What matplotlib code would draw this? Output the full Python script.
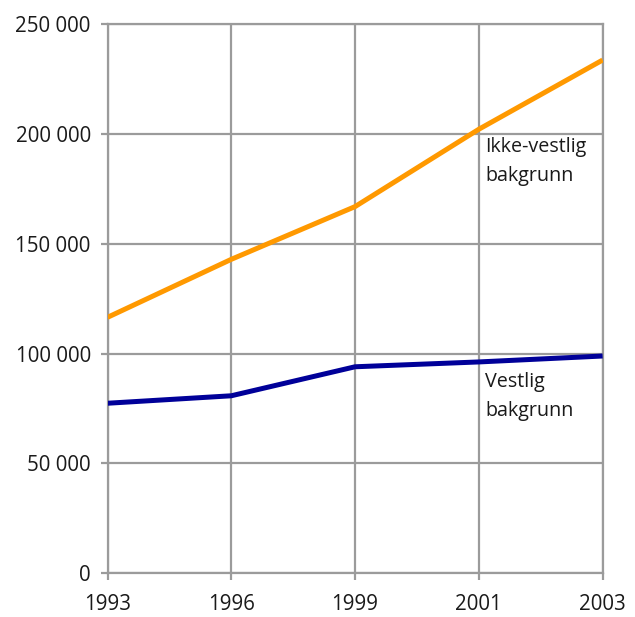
import matplotlib
matplotlib.use("Agg")
import matplotlib.pyplot as plt
from matplotlib.ticker import FuncFormatter

years = ["1993", "1996", "1999", "2001", "2003"]
ikke_vestlig = [116500, 142900, 166900, 202100, 233600]
vestlig = [77400, 80800, 94000, 96200, 98900]
y_ticks = [0, 50000, 100000, 150000, 200000, 250000]

plt.rcParams["font.family"] = ["Open Sans", "DejaVu Sans"]

grid_col = "#9b9b9b"
text_col = "#1a1a1a"

fig = plt.figure(figsize=(6.35, 6.17), dpi=100)
ax = fig.add_axes([0.1693, 0.0708, 0.7797, 0.8903])

x = list(range(len(years)))
ax.plot(x, ikke_vestlig, color="#ff9900", lw=3.6, solid_capstyle="butt", zorder=3)
ax.plot(x, vestlig, color="#000099", lw=3.6, solid_capstyle="butt", zorder=3)

ax.set_xlim(0, len(years) - 1)
ax.set_ylim(0, 250000)
ax.set_xticks(x)
ax.set_xticklabels(years)
ax.set_yticks(y_ticks)
ax.yaxis.set_major_formatter(FuncFormatter(lambda v, p: "{:,}".format(int(v)).replace(",", " ")))

ax.grid(True, color=grid_col, lw=1.6)
ax.set_axisbelow(True)
for s in ax.spines.values():
    s.set_color(grid_col)
    s.set_linewidth(1.6)
ax.tick_params(axis="both", color=grid_col, width=1.6, length=5, labelsize=14.8, labelcolor=text_col)
ax.tick_params(axis="y", pad=7)
ax.tick_params(axis="x", pad=10)

ax.text(3.05, 198500, "Ikke-vestlig\nbakgrunn", fontsize=14.2, color=text_col,
        va="top", ha="left", linespacing=1.6)
ax.text(3.05, 91500, "Vestlig\nbakgrunn", fontsize=14.2, color=text_col,
        va="top", ha="left", linespacing=1.6)

fig.savefig("out.png", dpi=100)
